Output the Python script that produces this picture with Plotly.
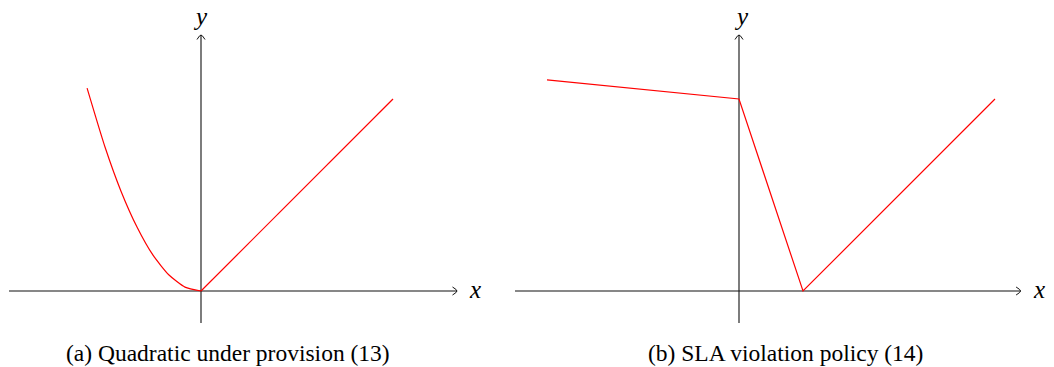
import numpy as np
import plotly.graph_objects as go

# ---- data -------------------------------------------------------------
# (a) quadratic under-provision cost: parabola for x<0, linear for x>0
quad_x = [-1.78, -1.5, -1.25, -1.0, -0.75, -0.5, -0.25, 0.0]
quad_y = [3.17, 2.25, 1.56, 1.0, 0.56, 0.25, 0.06, 0.0]
lin_x = [0.0, 3.0]
lin_y = [0.0, 3.0]

# (b) SLA violation policy: piecewise linear
sla_x = [-3.0, 0.0, 1.0, 4.0]
sla_y = [3.3, 3.0, 0.0, 3.0]

# axis extents (data units) for each panel
axes_a = {"x": [-3.0, 4.0], "y": [-0.5, 4.0]}
axes_b = {"x": [-3.5, 4.4], "y": [-0.5, 4.0]}

captions = ["(a) Quadratic under provision (13)", "(b) SLA violation policy (14)"]

# ---- layout geometry ---------------------------------------------------
W, H = 1054, 367
U = 64.0            # pixels per data unit
Y0 = 291.0          # pixel row of y = 0
ORIG_A, ORIG_B = 201.0, 739.0
SPLIT = 500.0

RED = "#ff0000"
INK = "#111111"
SERIF = "Liberation Serif"

fig = go.Figure()


def axis_traces(ext, xa):
    xs, ys = ext["x"], ext["y"]
    a = 4.5 / U
    b = 4.0 / U
    # horizontal axis with arrowhead
    fig.add_trace(go.Scatter(x=[xs[0], xs[1]], y=[0, 0], mode="lines",
                             line=dict(color=INK, width=1.1), xaxis=xa, yaxis="y",
                             hoverinfo="skip", showlegend=False))
    fig.add_trace(go.Scatter(x=[xs[1] - a, xs[1], xs[1] - a], y=[b, 0, -b], mode="lines",
                             line=dict(color=INK, width=1.0, shape="spline"), xaxis=xa,
                             yaxis="y", hoverinfo="skip", showlegend=False))
    # vertical axis with arrowhead
    fig.add_trace(go.Scatter(x=[0, 0], y=[ys[0], ys[1]], mode="lines",
                             line=dict(color=INK, width=1.1), xaxis=xa, yaxis="y",
                             hoverinfo="skip", showlegend=False))
    fig.add_trace(go.Scatter(x=[-b, 0, b], y=[ys[1] - a, ys[1], ys[1] - a], mode="lines",
                             line=dict(color=INK, width=1.0, shape="spline"), xaxis=xa,
                             yaxis="y", hoverinfo="skip", showlegend=False))


axis_traces(axes_a, "x")
axis_traces(axes_b, "x2")

fig.add_trace(go.Scatter(x=quad_x, y=quad_y, mode="lines",
                         line=dict(color=RED, width=1.2, shape="spline", smoothing=0.6),
                         xaxis="x", yaxis="y", showlegend=False))
fig.add_trace(go.Scatter(x=lin_x, y=lin_y, mode="lines", line=dict(color=RED, width=1.2),
                         xaxis="x", yaxis="y", showlegend=False))
fig.add_trace(go.Scatter(x=sla_x, y=sla_y, mode="lines", line=dict(color=RED, width=1.2),
                         xaxis="x2", yaxis="y", showlegend=False))

hidden = dict(visible=False, fixedrange=True)
fig.update_layout(
    width=W, height=H,
    margin=dict(l=0, r=0, t=0, b=0),
    paper_bgcolor="white", plot_bgcolor="white",
    font=dict(family=SERIF),
    xaxis=dict(domain=[0, SPLIT / W], range=[(0 - ORIG_A) / U, (SPLIT - ORIG_A) / U], **hidden),
    xaxis2=dict(domain=[SPLIT / W, 1], range=[(SPLIT - ORIG_B) / U, (W - ORIG_B) / U],
                anchor="y", **hidden),
    yaxis=dict(domain=[0, 1], range=[-(H - Y0) / U, Y0 / U], **hidden),
)

label_font = dict(family=SERIF, size=25, color="black")
anns = [
    dict(x=-0.01, y=(Y0 - 16) / U, xref="x", yref="y", text="<i>y</i>"),
    dict(x=0.04, y=(Y0 - 16) / U, xref="x2", yref="y", text="<i>y</i>"),
    dict(x=4.28, y=0.02, xref="x", yref="y", text="<i>x</i>"),
    dict(x=4.69, y=0.02, xref="x2", yref="y", text="<i>x</i>"),
]
for a in anns:
    fig.add_annotation(showarrow=False, font=label_font, xanchor="center", yanchor="middle",
                       borderpad=0, **a)

cap_font = dict(family=SERIF, size=23.5, color="black")
for cx, txt in zip([228.0, 785.5], captions):
    fig.add_annotation(x=cx / W, y=1 - 353.0 / H, xref="paper", yref="paper", text=txt,
                       showarrow=False, font=cap_font, xanchor="center", yanchor="middle")

fig.write_html("out.html")
